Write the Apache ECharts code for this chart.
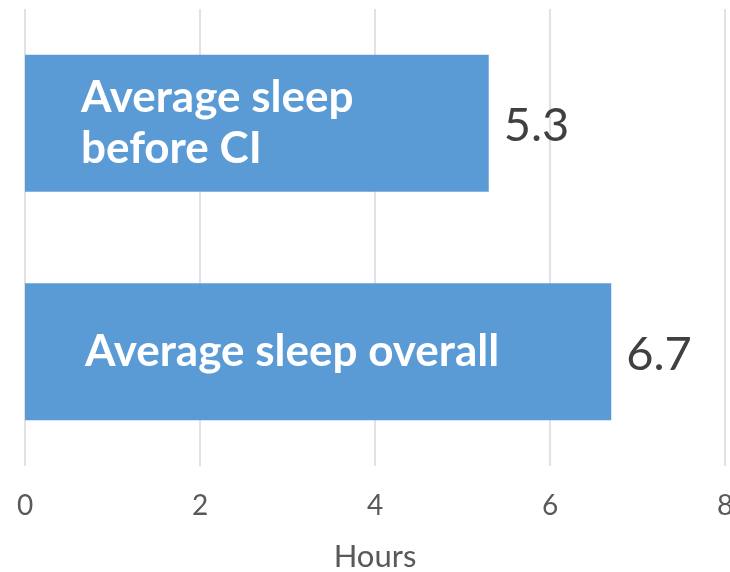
<!DOCTYPE html>
<html>
<head>
<meta charset="utf-8">
<script src="https://cdn.jsdelivr.net/npm/echarts@6/dist/echarts.min.js"></script>
<style>
  html, body { margin: 0; padding: 0; background: #fff; }
  #chart { width: 730px; height: 572px; }
</style>
</head>
<body>
<div id="chart"></div>
<script>
// Sleep comparison data
const categories = ['Average sleep\nbefore CI', 'Average sleep overall'];
const hours = [5.3, 6.7];
const axisTicks = [0, 2, 4, 6, 8];

const chart = echarts.init(document.getElementById('chart'), null, { renderer: 'canvas' });

chart.setOption({
  backgroundColor: '#ffffff',
  animation: false,
  grid: { left: 25, right: 5, top: 9, bottom: 106, containLabel: false, outerBoundsMode: 'none' },
  xAxis: {
    type: 'value',
    min: axisTicks[0],
    max: axisTicks[axisTicks.length - 1],
    interval: axisTicks[1] - axisTicks[0],
    name: 'Hours',
    nameLocation: 'middle',
    nameGap: 75,
    nameTextStyle: { fontFamily: 'Lato', fontSize: 31, color: '#595959' },
    axisLine: { show: false },
    axisTick: { show: false },
    axisLabel: { fontFamily: 'Lato', fontSize: 28, color: '#595959', margin: 26 },
    splitLine: { show: true, lineStyle: { color: '#D9D9D9', width: 1.5 } }
  },
  yAxis: {
    type: 'category',
    data: categories,
    inverse: true,
    axisLine: { show: false },
    axisTick: { show: false },
    splitLine: { show: false },
    axisLabel: {
      inside: true,
      margin: 0,
      formatter: function (v, i) {
        return i === 0 ? '{a|' + v + '}' : '{b|' + v + '}';
      },
      rich: {
        a: { fontFamily: 'Lato', fontWeight: 'bold', fontSize: 44, color: '#ffffff', lineHeight: 51, padding: [0, 0, 0, 56] },
        b: { fontFamily: 'Lato', fontWeight: 'bold', fontSize: 44, color: '#ffffff', lineHeight: 51, padding: [0, 0, 0, 60] }
      }
    },
    z: 10
  },
  series: [{
    type: 'bar',
    data: hours,
    barCategoryGap: '40%',
    itemStyle: { color: '#5B9BD5' },
    label: {
      show: true,
      position: 'right',
      distance: 15,
      offset: [0, 3],
      fontFamily: 'Lato',
      fontSize: 47,
      color: '#404040',
      formatter: function (p) { return p.value.toFixed(1); }
    }
  }]
});
</script>
</body>
</html>
